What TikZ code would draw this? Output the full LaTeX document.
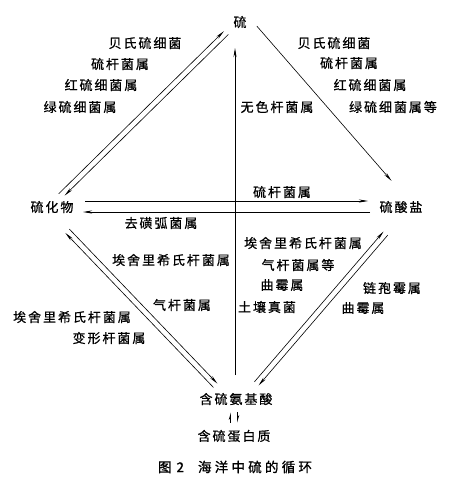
\documentclass[tikz,border=0pt]{standalone}
\usepackage{fontspec}
\newfontfamily\cjk[LetterSpace=15,FakeBold=0.6]{Noto Sans CJK SC}
\newfontfamily\capfont[LetterSpace=24,FakeBold=1.2]{Noto Sans CJK SC}
\usetikzlibrary{arrows.meta}
\usetikzlibrary{calc}
\tikzset{lab/.style={font=\cjk\fontsize{13}{15}\selectfont, inner sep=1pt}}
\tikzset{captxt/.style={font=\capfont\fontsize{13.5}{15}\selectfont, inner sep=1pt}}

\begin{document}
\begin{tikzpicture} [x=1pt, y=-1pt, line width=.6pt, >={Stealth[length=9pt,width=3pt]}]
\useasboundingbox (0,0) rectangle (450,478);
% compounds
\node[lab] (S) at (240,22) {硫};
\node[lab] (sulfide) at (52,207) {硫化物};
\node[lab] (sulfate) at (401,207) {硫酸盐};
\node[lab] (amino) at (236,399) {含硫氨基酸};
\node[lab] (protein) at (234,436) {含硫蛋白质};
% bacteria
\foreach \t/\x/\y [count=\i] in {贝氏硫细菌/145/43, 硫杆菌属/120/64, 红硫细菌属/101/85, 绿硫细菌属/80/107} {
  \node[lab] (ul\i) at (\x,\y) {\t};
}
\foreach \t/\x/\y [count=\i] in {贝氏硫细菌/334/43, 硫杆菌属/349/63, 红硫细菌属/370/85, 绿硫细菌属等/393/107} {
  \node[lab] (ur\i) at (\x,\y) {\t};
}
\node[lab] (vert) at (277,107) {无色杆菌属};
\node[lab] (hup) at (282,192) {硫杆菌属};
\node[lab] (hdown) at (161,223) {去磺弧菌属};
\foreach \t/\x/\y [count=\i] in {埃舍里希氏杆菌属/171/260, 气杆菌属/182/305} {
  \node[lab] (bli\i) at (\x,\y) {\t};
}
\foreach \t/\x/\y [count=\i] in {埃舍里希氏杆菌属/72/317, 变形杆菌属/109/338} {
  \node[lab] (blo\i) at (\x,\y) {\t};
}
\foreach \t/\x/\y [count=\i] in {埃舍里希氏杆菌属/303/243, 气杆菌属等/298/265, 曲霉属/282/285, 土壤真菌/267/307} {
  \node[lab] (bri\i) at (\x,\y) {\t};
}
\foreach \t/\x/\y [count=\i] in {链孢霉属/392/288, 曲霉属/363/308} {
  \node[lab] (bro\i) at (\x,\y) {\t};
}
% connectors
\draw[->, shorten <=14pt, shorten >=18pt, transform canvas={xshift=-3.3pt,yshift=3.4pt}] (sulfide.center)--(S.center);
\draw[->, shorten <=17pt, shorten >=17pt, transform canvas={xshift=.5pt,yshift=-.5pt}] (S.center)--(sulfide.center);
\draw[->, shorten <=14pt, shorten >=26pt, transform canvas={xshift=7.6pt,yshift=6.5pt}] (S.center)--(sulfate.center);
\draw[->, shorten <=24pt, shorten >=26pt, transform canvas={xshift=-1pt}] (amino.center)--(amino.center |- S.center);
\draw[->, shorten <=33pt, shorten >=33pt, transform canvas={yshift=6pt}] (sulfide.center)--(sulfate.center);
\draw[->, shorten <=31pt, shorten >=31pt, transform canvas={yshift=-5pt}] (sulfate.center)--(sulfide.center);
\draw[->, shorten <=24pt, shorten >=28pt, transform canvas={xshift=-6pt,yshift=-5.7pt}] (amino.center)--(sulfide.center);
\draw[->, shorten <=28pt, shorten >=24pt, transform canvas={xshift=-2pt,yshift=-1.9pt}] (sulfide.center)--(amino.center);
\draw[->, shorten <=25pt, shorten >=30pt, transform canvas={xshift=2.1pt,yshift=-1.8pt}] (amino.center)--(sulfate.center);
\draw[->, shorten <=30pt, shorten >=25pt, transform canvas={xshift=6.3pt,yshift=-5.4pt}] (sulfate.center)--(amino.center);
\draw[line width=.9pt, -{Stealth[length=6pt,width=3.5pt,harpoon]}, shorten <=6pt, shorten >=6pt, transform canvas={xshift=-3.5pt}] (protein.north)--(protein.north |- amino.south);
\draw[line width=.9pt, -{Stealth[length=6pt,width=3.5pt,harpoon]}, shorten <=6pt, shorten >=6pt, transform canvas={xshift=3.5pt}] (protein.north |- amino.south)--(protein.north);
% caption
\node[captxt] (title) at (235,467) {图\hspace{5pt}2\hspace{14pt}海洋中硫的循环};
\end{tikzpicture}
\end{document}
